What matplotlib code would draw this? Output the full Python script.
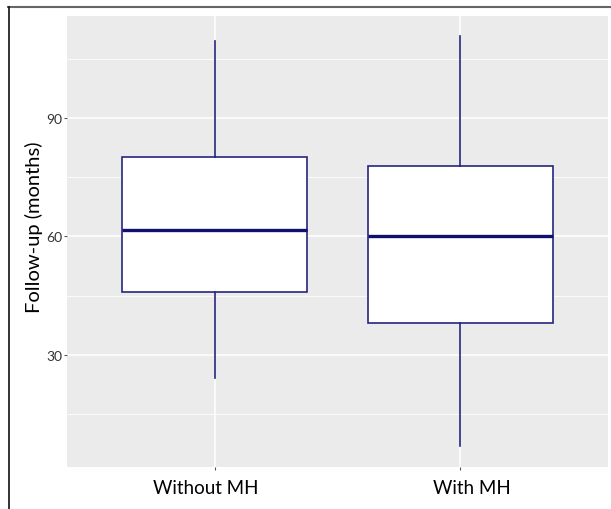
import matplotlib
matplotlib.use("Agg")
import matplotlib.pyplot as plt
from matplotlib.lines import Line2D
from matplotlib.transforms import ScaledTranslation

categories = ["Without MH", "With MH"]
q1 = [46, 38]
median = [61.7, 60]
q3 = [80, 77.8]
whisker_low = [24.2, 7]
whisker_high = [109.5, 110.8]
y_ticks = [30, 60, 90]
y_minor = [15, 45, 75, 105]

W, H = 611, 510
fig = plt.figure(figsize=(W / 100, H / 100), dpi=100)
fig.patch.set_facecolor("white")

ax = fig.add_axes([67 / W, (H - 468) / H, (608 - 67) / W, (468 - 17) / H])
ax.set_facecolor("#ebebeb")
for s in ax.spines.values():
    s.set_visible(False)

stats = []
for i, c in enumerate(categories):
    stats.append(dict(label=c, med=median[i], q1=q1[i], q3=q3[i],
                      whislo=whisker_low[i], whishi=whisker_high[i], fliers=[]))

edge = "#25257f"
ax.bxp(stats, positions=[1, 2], widths=0.75, patch_artist=True, showcaps=False,
       boxprops=dict(facecolor="white", edgecolor=edge, linewidth=1.2),
       whiskerprops=dict(color=edge, linewidth=1.2),
       medianprops=dict(color="#10106e", linewidth=2.4),
       zorder=3)

ax.set_xlim(0.4, 2.6)
ax.set_ylim(1.65, 115.8)
ax.set_yticks(y_ticks)
ax.set_yticks(y_minor, minor=True)
ax.set_yticklabels([str(t) for t in y_ticks])
ax.set_xticks([1, 2])
ax.set_xticklabels(categories)
ax.grid(True, which="major", color="white", linewidth=1.1, zorder=0)
ax.grid(True, which="minor", axis="y", color="white", linewidth=0.55, zorder=0)
ax.set_axisbelow(True)
ax.tick_params(axis="both", which="major", length=2.5, width=0.8, color="#555555")
ax.tick_params(axis="y", which="minor", length=0)
ax.tick_params(axis="y", labelsize=10, labelcolor="#333333", pad=1)
ax.tick_params(axis="x", labelsize=13.5, labelcolor="black", pad=6)
for lab in ax.get_xticklabels() + ax.get_yticklabels():
    lab.set_family("Lato")
xoffs = [-9, 11]
for lab, dx in zip(ax.get_xticklabels(), xoffs):
    lab.set_transform(lab.get_transform() + ScaledTranslation(dx / 100, 0, fig.dpi_scale_trans))

ax.set_ylabel("Follow-up (months)", fontsize=14.5, family="Lato")
ax.yaxis.set_label_coords((43 - 67) / 541, (468 - 227) / 451)

# frame around figure (top and left visible)
fig.add_artist(Line2D([8 / W, 1], [(H - 7.5) / H, (H - 7.5) / H], transform=fig.transFigure,
                      color="#666666", linewidth=1.5))
fig.add_artist(Line2D([8.5 / W, 8.5 / W], [0, (H - 7.5) / H], transform=fig.transFigure,
                      color="#111111", linewidth=1.2))

fig.savefig("out.png", dpi=100)
